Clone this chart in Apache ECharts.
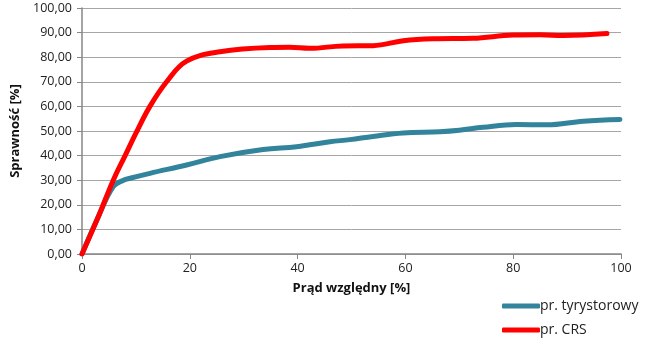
<!DOCTYPE html>
<html><head><meta charset="utf-8">
<script src="https://cdn.jsdelivr.net/npm/echarts@6/dist/echarts.min.js"></script>
<style>html,body{margin:0;padding:0;background:#fff}#c{width:649px;height:356px}</style>
</head><body><div id="c"></div>
<script>
const seriesNames = ['pr. tyrystorowy', 'pr. CRS'];
const thyX = [0, 3, 5.8, 7.7, 8.9, 12.6, 19.4, 25.6, 33.6, 39.8, 46, 49.7, 54, 59.6, 66.4, 70, 74.4, 80.6, 86.2, 93, 99.8];
const thyY = [0, 15, 27.4, 30, 30.8, 32.8, 36.2, 39.6, 42.5, 43.6, 45.6, 46.5, 47.8, 49.2, 49.7, 50.3, 51.5, 52.6, 52.5, 54, 54.7];
const crsX = [0, 3, 5.8, 8, 10.1, 12.6, 15.7, 19.4, 25.6, 34.9, 38.5, 42.3, 48.4, 54, 59.6, 65.1, 72.5, 80, 85, 89.3, 97.4];
const crsY = [0, 15, 30, 40, 49.5, 60, 70, 78.4, 82.2, 83.9, 84, 83.6, 84.6, 84.7, 86.7, 87.5, 87.7, 89, 89.1, 88.8, 89.6];
const xTicks = [0, 20, 40, 60, 80, 100];
const yTicks = [0, 10, 20, 30, 40, 50, 60, 70, 80, 90, 100];
const colors = ['#31849b', '#ff0000'];
const font = 'Open Sans';
function pairs(xs, ys){ return xs.map((x,i)=>[x, ys[i]]); }
const chart = echarts.init(document.getElementById('c'));
chart.setOption({
  animation: false,
  textStyle: {fontFamily: font},
  grid: {left: 82, right: 28, top: 8, bottom: 102},
  legend: {
    orient: 'vertical', left: 497, top: 294, itemGap: 10,
    itemWidth: 38, itemHeight: 5, icon: 'roundRect',
    textStyle: {fontFamily: font, fontSize: 14, color: '#222', padding: [0,0,0,-5]},
    data: seriesNames
  },
  xAxis: {
    type: 'value', min: 0, max: 100, interval: 20,
    name: 'Prąd względny [%]', nameLocation: 'middle', nameGap: 28,
    nameTextStyle: {fontFamily: font, fontSize: 13, fontWeight: 'bold', color: '#111'},
    axisLine: {show: true, lineStyle: {color: '#868686', width: 1.5}},
    axisTick: {show: true, length: 5, lineStyle: {color: '#868686'}},
    axisLabel: {fontFamily: font, fontSize: 12.5, color: '#222', margin: 8},
    splitLine: {show: false}
  },
  yAxis: {
    type: 'value', min: 0, max: 100, interval: 10,
    name: 'Sprawność [%]', nameLocation: 'middle', nameGap: 57, nameRotate: 90,
    nameTextStyle: {fontFamily: font, fontSize: 13, fontWeight: 'bold', color: '#111'},
    axisLine: {show: true, lineStyle: {color: '#868686', width: 1.5}},
    axisTick: {show: true, length: 5, lineStyle: {color: '#868686'}},
    axisLabel: {fontFamily: font, fontSize: 12.5, color: '#222', margin: 10,
      formatter: v => v.toFixed(2).replace('.', ',')},
    splitLine: {show: true, lineStyle: {color: '#a6a6a6', width: 1}}
  },
  series: [
    {name: seriesNames[0], type: 'line', smooth: 0.4, symbol: 'none', data: pairs(thyX, thyY),
     lineStyle: {color: colors[0], width: 5, cap: 'round'}, itemStyle: {color: colors[0]}},
    {name: seriesNames[1], type: 'line', smooth: 0.4, symbol: 'none', data: pairs(crsX, crsY),
     lineStyle: {color: colors[1], width: 5, cap: 'round'}, itemStyle: {color: colors[1]}}
  ]
});
</script></body></html>
